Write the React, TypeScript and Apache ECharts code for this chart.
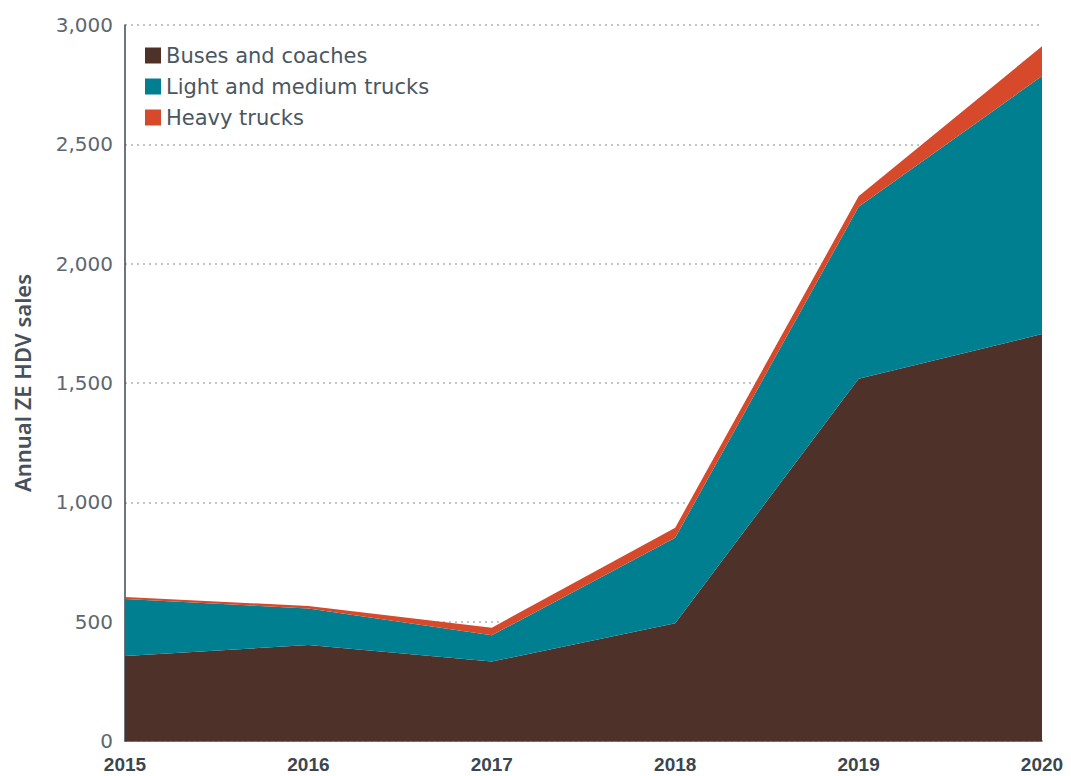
import React, { useEffect, useRef } from "react";
import * as echarts from "echarts";

const years = ["2015", "2016", "2017", "2018", "2019", "2020"];
const buses = [356, 402, 333, 493, 1518, 1705];
const lightMedium = [239, 153, 110, 359, 720, 1081];
const heavy = [8, 11, 32, 42, 44, 125];
const yTicks = { min: 0, max: 3000, interval: 500 };

const FONT = "DejaVu Sans";

export default function App() {
  const ref = useRef<HTMLDivElement>(null);
  useEffect(() => {
    if (!ref.current) return;
    const chart = echarts.init(ref.current, null, { renderer: "svg" });
    const area = (name: string, data: number[], color: string) => ({
      name,
      type: "line",
      stack: "total",
      data,
      symbol: "none",
      lineStyle: { width: 0 },
      areaStyle: { color, opacity: 1 },
      itemStyle: { color },
      emphasis: { disabled: true },
    });
    chart.setOption({
      animation: false,
      backgroundColor: "#ffffff",
      grid: { left: 125, right: 29, top: 25, bottom: 35, containLabel: false, outerBoundsMode: "none" },
      legend: {
        orient: "vertical",
        left: 145,
        top: 45,
        padding: 0,
        itemGap: 10,
        itemWidth: 16,
        itemHeight: 16,
        icon: "rect",
        textStyle: { fontFamily: FONT, fontSize: 21, color: "#4a5660" },
        data: ["Buses and coaches", "Light and medium trucks", "Heavy trucks"],
      },
      xAxis: {
        type: "category",
        data: years,
        boundaryGap: false,
        axisLine: { show: true, lineStyle: { color: "#3d4852", width: 1.5 } },
        axisTick: { show: false },
        axisLabel: {
          fontFamily: "Liberation Sans",
          fontSize: 19,
          fontWeight: "bold",
          color: "#3a4650",
          margin: 15,
          lineHeight: 16,
        },
        splitLine: { show: false },
      },
      yAxis: {
        type: "value",
        min: yTicks.min,
        max: yTicks.max,
        interval: yTicks.interval,
        name: "Annual ZE HDV sales",
        nameLocation: "middle",
        nameGap: 92,
        nameTextStyle: { fontFamily: "Noto Sans", fontSize: 22, fontWeight: 600, color: "#46515b" },
        axisLine: { show: true, lineStyle: { color: "#3d4852", width: 1.5 } },
        axisTick: { show: false },
        axisLabel: {
          fontFamily: FONT,
          fontSize: 20,
          lineHeight: 18,
          color: "#5d676f",
          margin: 12,
          formatter: (v: number) => v.toLocaleString("en-US"),
        },
        splitLine: { show: true, lineStyle: { color: "#c4c4c4", type: [2, 4], width: 2 } },
      },
      series: [
        area("Buses and coaches", buses, "#4e3229"),
        area("Light and medium trucks", lightMedium, "#007f91"),
        area("Heavy trucks", heavy, "#d64a2b"),
      ],
    });
    return () => chart.dispose();
  }, []);
  return <div ref={ref} style={{ width: 1071, height: 776, position: "absolute", left: 0, top: 0 }} />;
}
